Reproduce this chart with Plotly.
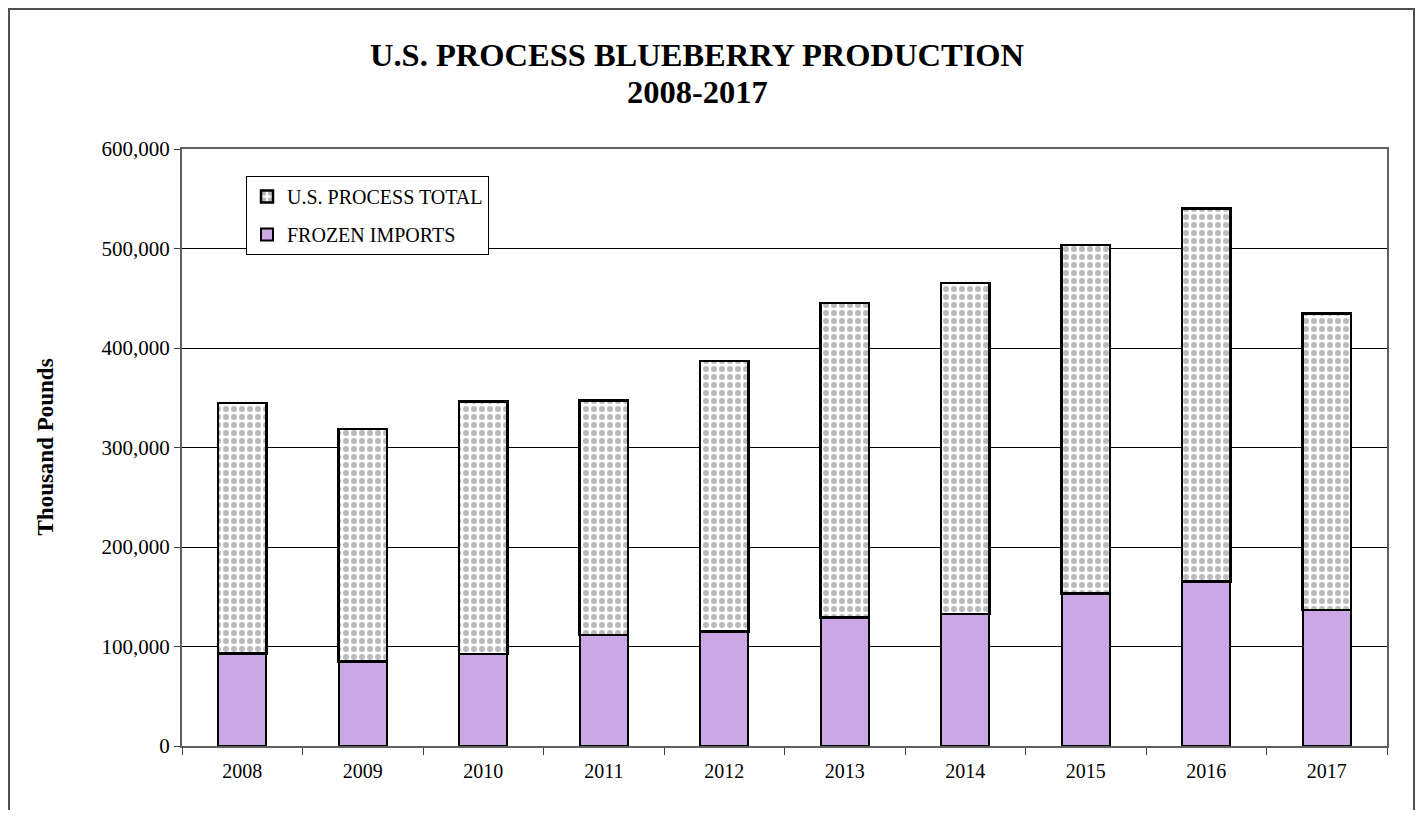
import plotly.graph_objects as go

years = ["2008", "2009", "2010", "2011", "2012", "2013", "2014", "2015", "2016", "2017"]
frozen_imports = [93000, 84900, 92600, 111700, 115100, 129200, 132600, 153400, 165400, 136600]
us_process_total = [251600, 233600, 253400, 235600, 271800, 315800, 332500, 350000, 375000, 298300]
y_ticks = [0, 100000, 200000, 300000, 400000, 500000, 600000]
title_lines = ["U.S. PROCESS BLUEBERRY PRODUCTION", "2008-2017"]

FONT = "Liberation Serif, Times New Roman, serif"

# figure is offset 8px by the page body margin
W, H = 1407, 802
L, R, T, B = 174, 28, 141, 64
PW, PH = W - L - R, H - T - B

def px(fx):
    return (fx - L) / PW

def py(fy):
    return (H - B - fy) / PH

fig = go.Figure()
fig.add_trace(go.Bar(
    x=years, y=frozen_imports, name="FROZEN IMPORTS", legendgroup="b",
    legendrank=2,
    marker=dict(color="#CBA8E3", line=dict(color="black", width=2)),
    width=0.4,
))
fig.add_trace(go.Bar(
    x=years, y=us_process_total, name="U.S. PROCESS TOTAL", legendgroup="a",
    legendrank=1,
    marker=dict(color="white", line=dict(color="black", width=2.5),
                pattern=dict(shape=".", fgcolor="#777777", bgcolor="white",
                             size=8, solidity=0.45, fillmode="overlay")),
    width=0.4,
))

fig.update_layout(
    width=W, height=H,
    barmode="stack",
    paper_bgcolor="white", plot_bgcolor="white",
    margin=dict(l=L, r=R, t=T, b=B),
    font=dict(family=FONT, size=21, color="black"),
    showlegend=True,
    legend=dict(
        x=px(246 - 8), y=py(176 - 8), xanchor="left", yanchor="top",
        traceorder="grouped", tracegroupgap=9,
        bgcolor="white", bordercolor="black", borderwidth=1,
        font=dict(family=FONT, size=20, color="black"),
        itemwidth=30,
    ),
    xaxis=dict(
        type="category",
        showline=True, linecolor="#606060", linewidth=2, mirror=True,
        ticks="outside", tickson="boundaries", ticklen=7, tickcolor="#404040",
        showgrid=False, ticklabelstandoff=6,
        tickfont=dict(family=FONT, size=20, color="black"),
    ),
    yaxis=dict(
        range=[0, 600000],
        tickvals=y_ticks, tickformat=",d",
        showline=True, linecolor="#606060", linewidth=2, mirror=True,
        ticks="outside", ticklen=6, tickcolor="#404040",
        showgrid=True, gridcolor="black", gridwidth=1,
        zeroline=False,
        tickfont=dict(family=FONT, size=21, color="black"),
    ),
    annotations=[
        dict(text="<b>%s</b>" % title_lines[0], xref="paper", yref="paper",
             x=px(697 - 8), y=py(55 - 8), xanchor="center", yanchor="middle",
             showarrow=False, font=dict(family=FONT, size=32.5, color="black")),
        dict(text="<b>%s</b>" % title_lines[1], xref="paper", yref="paper",
             x=px(697 - 8), y=py(92 - 8), xanchor="center", yanchor="middle",
             showarrow=False, font=dict(family=FONT, size=32.5, color="black")),
        dict(text="<b>Thousand Pounds</b>", textangle=-90,
             xref="paper", yref="paper", x=px(45 - 8), y=0.5,
             xanchor="center", yanchor="middle", showarrow=False,
             font=dict(family=FONT, size=23, color="black")),
    ],
    shapes=[dict(
        type="rect", xref="paper", yref="paper",
        x0=px(1), x1=px(W - 1),
        y0=py(H + 40), y1=py(1),
        line=dict(color="#505050", width=2), fillcolor="rgba(0,0,0,0)",
        layer="below",
    )],
)

fig.write_html("out.html")
